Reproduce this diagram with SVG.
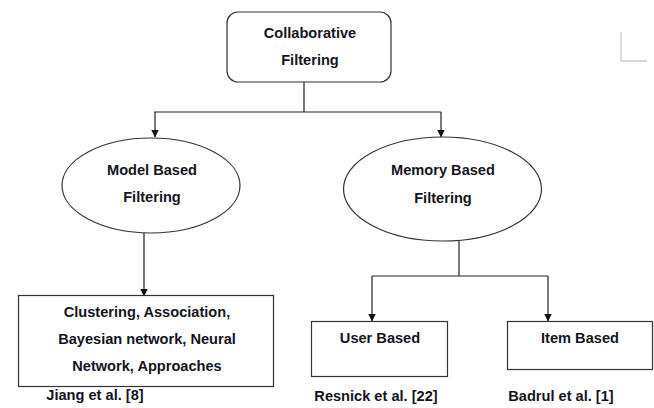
<svg xmlns="http://www.w3.org/2000/svg" width="654" height="408" viewBox="0 0 654 408">
<defs>
<marker id="arr" markerWidth="8" markerHeight="9" refX="7.5" refY="4" orient="auto" markerUnits="userSpaceOnUse">
<path d="M0,0 L8,4 L0,8 Z" fill="#111"/>
</marker>
<style>
.n{fill:#fff;stroke:#333;stroke-width:1.2}
.t{font-family:"Liberation Sans",Arial,sans-serif;font-weight:bold;font-size:14.6px;fill:#14141e;text-anchor:middle}
.c{fill:none;stroke:#222;stroke-width:1.2}
</style>
</defs>
<rect width="654" height="408" fill="#fff"/>
<g id="connectors">
<path class="c" d="M304,82 V112"/>
<path class="c" d="M154,112 H441"/>
<path class="c" d="M155,112 V137" marker-end="url(#arr)"/>
<path class="c" d="M441,112 V137" marker-end="url(#arr)"/>
<path class="c" d="M144,233 V296" marker-end="url(#arr)"/>
<path class="c" d="M459,241 V276"/>
<path class="c" d="M372,276 H548"/>
<path class="c" d="M372,276 V321" marker-end="url(#arr)"/>
<path class="c" d="M548,276 V321" marker-end="url(#arr)"/>
</g>
<g id="collaborative">
<rect class="n" x="227" y="12" width="164" height="70" rx="11"/>
<text class="t" x="310" y="38">Collaborative</text>
<text class="t" x="310" y="65">Filtering</text>
</g>
<g id="model">
<ellipse class="n" cx="151" cy="185.5" rx="89" ry="47.5"/>
<text class="t" x="152" y="175">Model Based</text>
<text class="t" x="152" y="202">Filtering</text>
</g>
<g id="memory">
<ellipse class="n" cx="442.5" cy="189" rx="99" ry="52"/>
<text class="t" x="443" y="175">Memory Based</text>
<text class="t" x="443" y="203">Filtering</text>
</g>
<g id="approaches">
<rect class="n" x="18.5" y="295.5" width="255" height="91"/>
<text class="t" x="147" y="317">Clustering, Association,</text>
<text class="t" x="147" y="344">Bayesian network, Neural</text>
<text class="t" x="147" y="371">Network, Approaches</text>
<text class="t" x="95" y="400">Jiang et al. [8]</text>
</g>
<g id="user">
<rect class="n" x="311.5" y="321.5" width="136" height="55"/>
<text class="t" x="380" y="343">User Based</text>
<text class="t" x="376" y="401">Resnick et al. [22]</text>
</g>
<g id="item">
<rect class="n" x="507.5" y="321.5" width="145" height="48"/>
<text class="t" x="580" y="343">Item Based</text>
<text class="t" x="561" y="401">Badrul et al. [1]</text>
</g>
<path d="M621,32 V61 H647" fill="none" stroke="#ccc" stroke-width="1.3"/>
</svg>
